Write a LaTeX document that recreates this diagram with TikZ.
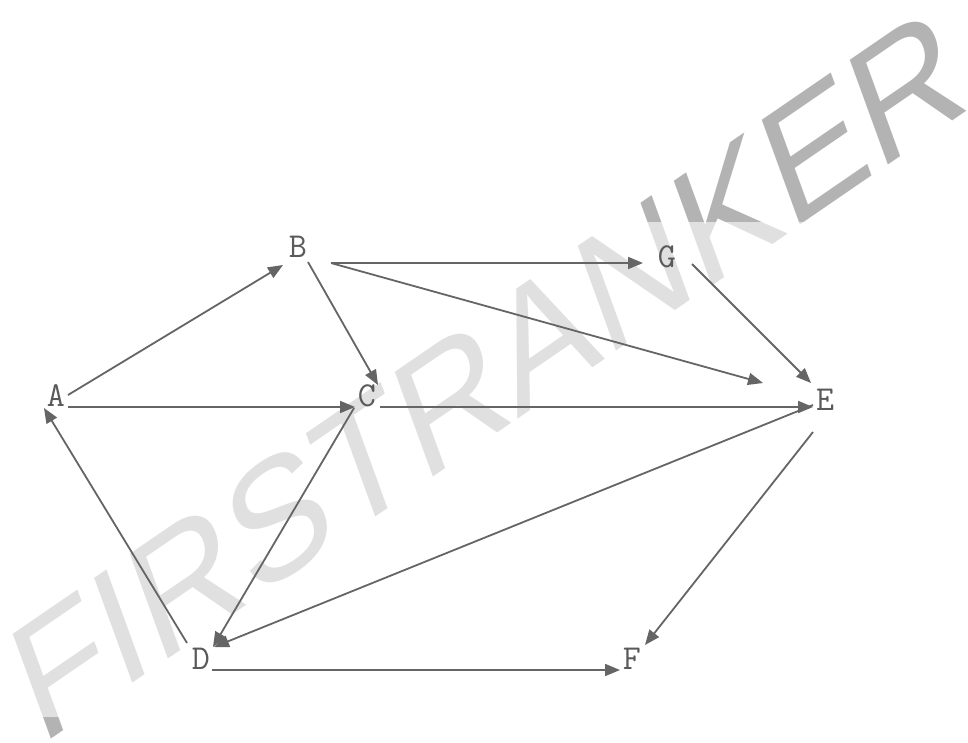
\documentclass[tikz,border=0pt]{standalone}
\usepackage{fontspec}
\setmainfont{Liberation Sans}
\newfontfamily\wmfont{Liberation Sans}
\usetikzlibrary{arrows.meta,calc}
\definecolor{edgegray}{HTML}{656565}
\definecolor{labelgray}{HTML}{5A5A5A}
\definecolor{wmdark}{HTML}{B3B3B3}
\begin{document}
\begin{tikzpicture}[x=1pt,y=-1pt,
  vtx/.style={inner sep=0pt, text=labelgray, font=\ttfamily\fontsize{35}{40}\selectfont},
  edge/.style={draw=edgegray, line width=1.8pt, -{Triangle[length=15pt,width=12pt]}},
  wmark/.style={inner sep=0pt, anchor=base west, text=wmdark, font=\wmfont\fontsize{162}{170}\selectfont}]
\useasboundingbox[fill=white] (0,0) rectangle (968,742);
% watermark
\node[wmark, cm={0.816,0.560,-0.342,0.940,(0,0)}] (wm) at (40,747) {FIRSTRANKER};
\fill[white, opacity=0.6] (0,222) rectangle (968,717);
% vertices
\node[vtx] (A) at (56,396) {A};
\node[vtx] (B) at (298,247) {B};
\node[vtx] (C) at (367,396) {C};
\node[vtx] (G) at (667,257) {G};
\node[vtx] (E) at (825,400) {E};
\node[vtx] (D) at (201,659) {D};
\node[vtx] (F) at (632,659) {F};
% edges
\draw[edge] ($(A)+(12,-1)$) -- ($(B)+(-15,18)$);
\draw[edge] ($(A)+(12,11)$) -- ($(C)+(-12,11)$);
\draw[edge] ($(B)+(10,15)$) -- ($(C)+(11,-11)$);
\draw[edge] ($(B)+(33,16)$) -- ($(G)+(-24,6)$);
\draw[edge] ($(B)+(33,16)$) -- ($(E)+(-62,-17)$);
\draw[edge] ($(G)+(25,7)$) -- ($(E)+(-14,-17)$);
\draw[edge] ($(C)+(13,11)$) -- ($(E)+(-12,7)$);
\draw[edge] ($(E)+(-12,5)$) -- ($(D)+(13,-12)$);
\draw[edge] ($(C)+(-13,12)$) -- ($(D)+(12,-12)$);
\draw[edge] ($(D)+(-14,-16)$) -- ($(A)+(-12,12)$);
\draw[edge] ($(E)+(-12,32)$) -- ($(F)+(13,-14)$);
\draw[edge] ($(D)+(11,11)$) -- ($(F)+(-12,11)$);
\end{tikzpicture}
\end{document}
